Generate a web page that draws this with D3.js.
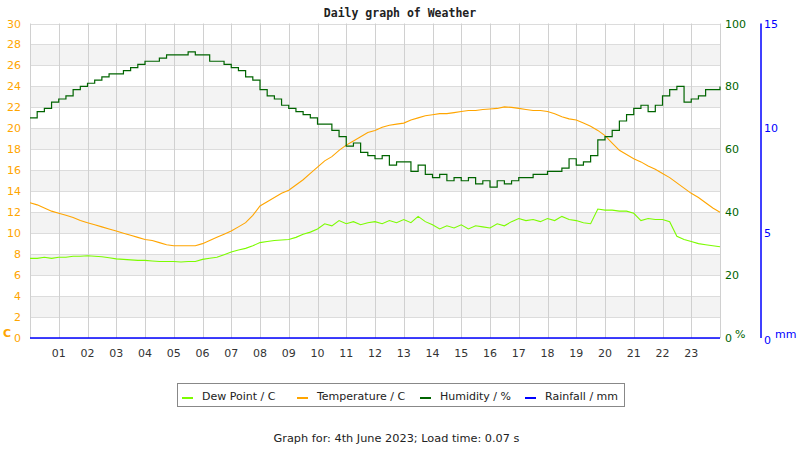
<!DOCTYPE html>
<html>
<head>
<meta charset="utf-8">
<script src="https://cdn.jsdelivr.net/npm/d3@7"></script>
<style>
  body { margin: 0; background: #fff; }
  text { font-family: "DejaVu Sans", sans-serif; }
</style>
</head>
<body>
<div id="chart"></div>
<script>
// readings every 15 minutes, hour 0 to 24
var sampleStep = 0.25;

var temperature = [
  12.9, 12.7, 12.4, 12.1, 11.9, 11.7, 11.5, 11.2,
  11.0, 10.8, 10.6, 10.4, 10.2, 10.0, 9.8, 9.6,
  9.4, 9.3, 9.1, 8.9, 8.8, 8.8, 8.8, 8.8,
  9.0, 9.3, 9.6, 9.9, 10.2, 10.6, 11.0, 11.7,
  12.6, 13.0, 13.4, 13.8, 14.1, 14.6, 15.1, 15.7,
  16.3, 16.9, 17.3, 17.9, 18.4, 18.8, 19.2, 19.6,
  19.8, 20.1, 20.3, 20.4, 20.5, 20.8, 21.0, 21.2,
  21.3, 21.4, 21.4, 21.5, 21.6, 21.7, 21.7, 21.8,
  21.85, 21.9, 22.05, 22.0, 21.9, 21.8, 21.7, 21.7,
  21.6, 21.4, 21.1, 20.9, 20.8, 20.5, 20.2, 19.8,
  19.3, 18.6, 17.9, 17.5, 17.1, 16.8, 16.4, 16.1,
  15.7, 15.3, 14.8, 14.3, 13.8, 13.4, 12.9, 12.4,
  12.0
];

var dewPoint = [
  7.6, 7.6, 7.7, 7.6, 7.7, 7.7, 7.8, 7.8,
  7.85, 7.8, 7.75, 7.65, 7.55, 7.5, 7.45, 7.4,
  7.4, 7.35, 7.3, 7.3, 7.3, 7.25, 7.3, 7.3,
  7.5, 7.6, 7.7, 7.95, 8.2, 8.4, 8.55, 8.8,
  9.1, 9.2, 9.3, 9.35, 9.4, 9.6, 9.9, 10.1,
  10.4, 10.9, 10.7, 11.2, 10.9, 11.1, 10.8, 11.0,
  11.1, 10.9, 11.2, 11.0, 11.3, 11.0, 11.6, 11.1,
  10.8, 10.4, 10.7, 10.5, 10.8, 10.4, 10.7, 10.6,
  10.5, 10.9, 10.7, 11.1, 11.4, 11.2, 11.3, 11.1,
  11.4, 11.2, 11.6, 11.3, 11.2, 11.0, 10.9, 12.3,
  12.2, 12.2, 12.1, 12.1, 11.9, 11.2, 11.4, 11.3,
  11.3, 11.1, 9.7, 9.4, 9.2, 9.0, 8.9, 8.8,
  8.7
];

var humidity = [
  70, 72, 73, 75, 76, 77, 79, 80,
  81, 82, 83, 84, 84, 85, 86, 87,
  88, 88, 89, 90, 90, 90, 91, 90,
  90, 88, 88, 87, 86, 85, 83, 82,
  79, 77, 76, 74, 73, 72, 71, 70,
  68, 68, 66, 64, 61, 62, 59, 58,
  57, 58, 55, 56, 56, 53, 55, 52,
  51, 52, 50, 51, 50, 51, 49, 50,
  48, 50, 49, 50, 51, 51, 52, 52,
  53, 53, 54, 57, 55, 56, 58, 63,
  64, 66, 69, 71, 73, 74, 72, 74,
  77, 79, 80, 75, 76, 77, 79, 79,
  80
];

// no rain all day
var rainHours = [0, 24];
var rainfall = [0, 0];

var hourTicks = ["01","02","03","04","05","06","07","08","09","10","11","12",
                 "13","14","15","16","17","18","19","20","21","22","23"];
var tempTicks = [0, 2, 4, 6, 8, 10, 12, 14, 16, 18, 20, 22, 24, 26, 28, 30];
var humTicks = [0, 20, 40, 60, 80, 100];
var rainTicks = [0, 5, 10, 15];

var legendItems = [
  {name: "Dew Point / C", color: "#7cfc00"},
  {name: "Temperature / C", color: "#ffa500"},
  {name: "Humidity / %", color: "#006400"},
  {name: "Rainfall / mm", color: "#0000ff"}
];

var width = 800, height = 450;
var plot = {left: 30, right: 720, top: 23.5, bottom: 338};

var svg = d3.select("#chart")
  .append("svg")
    .attr("width", width)
    .attr("height", height);

var x = d3.scaleLinear().domain([0, 24]).range([plot.left, plot.right]);
var yT = d3.scaleLinear().domain([0, 30]).range([plot.bottom, plot.top]);
var yH = d3.scaleLinear().domain([0, 100]).range([plot.bottom, plot.top]);
var yR = d3.scaleLinear().domain([0, 15]).range([plot.bottom, plot.top]);

// title
svg.append("text")
  .attr("x", 400)
  .attr("y", 17)
  .attr("text-anchor", "middle")
  .style("font-family", "'DejaVu Sans Mono', monospace")
  .style("font-weight", "bold")
  .style("font-size", "11.5px")
  .style("fill", "#222")
  .text("Daily graph of Weather");

// grey bands
svg.append("g")
  .selectAll("rect")
  .data(tempTicks.filter(function(d){ return d % 4 == 2 && d < 30; }))
  .enter()
  .append("rect")
    .attr("x", plot.left)
    .attr("y", function(d){ return yT(d + 2); })
    .attr("width", plot.right - plot.left)
    .attr("height", function(d){ return yT(d) - yT(d + 2); })
    .style("fill", "#f3f3f3");

//gridlines
svg.append("g")
  .selectAll("line")
  .data(tempTicks)
  .enter()
  .append("line")
    .attr("x1", plot.left)
    .attr("x2", plot.right)
    .attr("y1", function(d){ return Math.round(yT(d)) + 0.5; })
    .attr("y2", function(d){ return Math.round(yT(d)) + 0.5; })
    .style("stroke", "#dcdcdc")
    .style("stroke-width", 1);

svg.append("g")
  .selectAll("line")
  .data(d3.range(0, 25))
  .enter()
  .append("line")
    .attr("x1", function(d){ return Math.round(x(d)) + 0.5; })
    .attr("x2", function(d){ return Math.round(x(d)) + 0.5; })
    .attr("y1", plot.top)
    .attr("y2", plot.bottom)
    .style("stroke", "#d0d0d0")
    .style("stroke-width", 1);

// hour labels
svg.append("g")
  .selectAll("text")
  .data(hourTicks)
  .enter()
  .append("text")
    .attr("x", function(d){ return x(+d); })
    .attr("y", 357)
    .attr("text-anchor", "middle")
    .style("font-size", "11px")
    .style("fill", "#333")
    .text(function(d){ return d; });

// left axis labels
svg.append("g")
  .selectAll("text")
  .data(tempTicks)
  .enter()
  .append("text")
    .attr("x", 21)
    .attr("y", function(d){ return yT(d) + 4; })
    .attr("text-anchor", "end")
    .style("font-size", "11px")
    .style("fill", "#ffa500")
    .text(function(d){ return d; });

svg.append("text")
  .attr("x", 3)
  .attr("y", 337)
  .style("font-size", "11px")
  .style("font-weight", "bold")
  .style("fill", "#ffa500")
  .text("C");

// humidity axis labels
svg.append("g")
  .selectAll("text")
  .data(humTicks)
  .enter()
  .append("text")
    .attr("x", 725)
    .attr("y", function(d){ return yH(d) + 4; })
    .style("font-size", "11px")
    .style("fill", "#006400")
    .text(function(d){ return d; });

svg.append("text")
  .attr("x", 735)
  .attr("y", 338)
  .style("font-size", "11px")
  .style("fill", "#006400")
  .text("%");

// rainfall axis
svg.append("line")
  .attr("x1", 761)
  .attr("x2", 761)
  .attr("y1", plot.top)
  .attr("y2", plot.bottom)
  .style("stroke", "#0000ff")
  .style("stroke-width", 1.5);

svg.append("g")
  .selectAll("text")
  .data(rainTicks)
  .enter()
  .append("text")
    .attr("x", 764)
    .attr("y", function(d){ return d == 0 ? yR(d) + 6 : yR(d) + 4; })
    .style("font-size", "11px")
    .style("fill", "#0000ff")
    .text(function(d){ return d; });

svg.append("text")
  .attr("x", 775)
  .attr("y", 338)
  .style("font-size", "11px")
  .style("fill", "#0000ff")
  .text("mm");

// series lines
function hourOf(i){ return i * sampleStep; }

var dewLine = d3.line()
  .x(function(d, i){ return x(hourOf(i)); })
  .y(function(d){ return yT(d); });

var tempLine = d3.line()
  .x(function(d, i){ return x(hourOf(i)); })
  .y(function(d){ return yT(d); });

var humLine = d3.line()
  .x(function(d, i){ return x(hourOf(i)); })
  .y(function(d){ return yH(d); })
  .curve(d3.curveStepAfter);

var rainLine = d3.line()
  .x(function(d, i){ return x(rainHours[i]); })
  .y(function(d){ return yR(d); });

svg.append("path")
  .datum(dewPoint)
  .attr("d", dewLine)
  .style("fill", "none")
  .style("stroke", "#7cfc00")
  .style("stroke-width", 1.1);

svg.append("path")
  .datum(temperature)
  .attr("d", tempLine)
  .style("fill", "none")
  .style("stroke", "#ffa500")
  .style("stroke-width", 1.1);

svg.append("path")
  .datum(humidity)
  .attr("d", humLine)
  .style("fill", "none")
  .style("stroke", "#006400")
  .style("stroke-width", 1.2);

svg.append("path")
  .datum(rainfall)
  .attr("d", rainLine)
  .style("fill", "none")
  .style("stroke", "#0000ff")
  .style("stroke-width", 1.3);

// legend
var legend = svg.append("g");
legend.append("rect")
  .attr("x", 177.5)
  .attr("y", 383.5)
  .attr("width", 447)
  .attr("height", 23)
  .style("fill", "#fff")
  .style("stroke", "#888")
  .style("stroke-width", 1);

var legendX = [182, 297, 420, 525];
legendItems.forEach(function(item, i){
  legend.append("line")
    .attr("x1", legendX[i])
    .attr("x2", legendX[i] + 11)
    .attr("y1", 398)
    .attr("y2", 398)
    .style("stroke", item.color)
    .style("stroke-width", 2);
  legend.append("text")
    .attr("x", legendX[i] + 20)
    .attr("y", 400)
    .style("font-size", "11px")
    .style("fill", "#222")
    .text(item.name);
});

// footer
svg.append("text")
  .attr("x", 396.5)
  .attr("y", 442)
  .attr("text-anchor", "middle")
  .style("font-size", "11.3px")
  .style("fill", "#222")
  .text("Graph for: 4th June 2023; Load time: 0.07 s");
</script>
</body>
</html>
